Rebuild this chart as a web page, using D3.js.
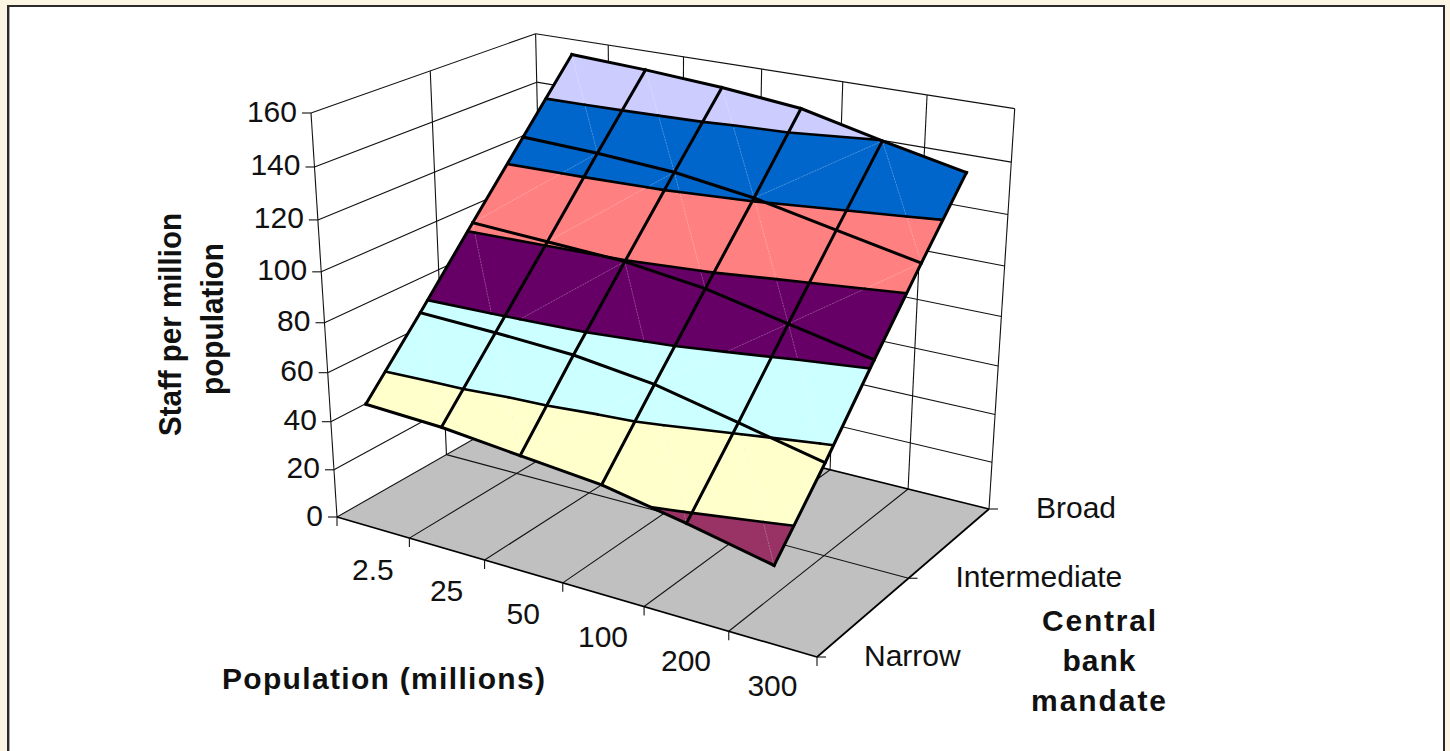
<!DOCTYPE html>
<html>
<head>
<meta charset="utf-8">
<style>
  html, body { margin: 0; padding: 0; background: #fdf5e3; overflow: hidden; }
  text { font-family: "Liberation Sans", Arial, sans-serif; fill: #111; }
  .title { font-weight: bold; }
</style>
</head>
<body>
<svg id="chart" width="1450" height="751"></svg>
<script src="https://cdn.jsdelivr.net/npm/d3@7"></script>
<script>
// Chart values
const populationLabels = ["2.5", "25", "50", "100", "200", "300"];
const mandateSeries = ["Narrow", "", "Intermediate", "", "Broad"];
const narrowStaff = [51.1, 49.7, 46.6, 43.6, 37.4, 30.4];
const narrowMidStaff = [76.4, 75.4, 73.8, 69.8, 62.7, 55.5];
const intermediateStaff = [102.5, 101.1, 99.6, 95.6, 88.9, 82.3];
const broadMidStaff = [128.2, 127.1, 125.2, 120.9, 114.5, 108.2];
const broadStaff = [153.8, 152.4, 150.3, 147.1, 139.8, 133.2];
const staffTicks = [0, 20, 40, 60, 80, 100, 120, 140, 160];
const bandColors = ["#9999ff", "#993366", "#ffffcc", "#ccffff", "#660066", "#ff8080", "#0066cc", "#ccccff"];
// Which way each surface cell is split: 0 joins back-left to front-right, 1 joins front-left to back-right
const cellSplits = [
  [0, 0, 1, 0, 0],
  [0, 1, 0, 1, 0],
  [1, 1, 0, 0, 1],
  [0, 0, 0, 1, 0]
];

const staffRows = [narrowStaff, narrowMidStaff, intermediateStaff, broadMidStaff, broadStaff];

// Scales from category and value to unit-cube coordinates
const popScale = d3.scaleBand().domain(populationLabels).range([0, 1]);
const mandateScale = d3.scalePoint().domain(d3.range(mandateSeries.length)).range([0, 1]);
const staffScale = d3.scaleLinear().domain([0, 160]).range([0, 1]);
const bandColor = d3.scaleThreshold().domain(d3.range(20, 160, 20)).range(bandColors);

// Perspective camera: floor corners plus the vanishing point of the verticals
const floorLeft = [337, 517], floorFront = [817, 657], floorRight = [989, 509], floorBack = [544, 399];
const vanish = [663, 5583];
const cubeTopY = 113;

function quadHomography([x0, y0], [x1, y1], [x2, y2], [x3, y3]) {
  const dx1 = x1 - x2, dx2 = x3 - x2, sx = x0 - x1 + x2 - x3;
  const dy1 = y1 - y2, dy2 = y3 - y2, sy = y0 - y1 + y2 - y3;
  const d = dx1 * dy2 - dx2 * dy1;
  const g = (sx * dy2 - dx2 * sy) / d, h = (dx1 * sy - sx * dy1) / d;
  return [x1 - x0 + g * x1, x3 - x0 + h * x3, x0, y1 - y0 + g * y1, y3 - y0 + h * y3, y0, g, h];
}
const H = quadHomography(floorLeft, floorFront, floorRight, floorBack);
const rise = (floorLeft[1] - cubeTopY) / (floorLeft[1] - vanish[1]);
const K = rise / (1 - rise);

function project(u, v, h) {
  const t = h * K;
  const w = H[6] * u + H[7] * v + 1 + t;
  return [(H[0] * u + H[1] * v + H[2] + t * vanish[0]) / w,
          (H[3] * u + H[4] * v + H[5] + t * vanish[1]) / w];
}

const svg = d3.select("#chart");
const line = d3.line();

// Page frame
svg.append("rect").attr("x", 8).attr("y", 6).attr("width", 1436).attr("height", 780)
  .attr("fill", "#fff").attr("stroke", "#2a2a2a").attr("stroke-width", 2);
svg.append("line").attr("x1", 9.5).attr("x2", 9.5).attr("y1", 7).attr("y2", 751)
  .attr("stroke", "#aaa").attr("stroke-width", 1);

const thin = (g) => g.attr("fill", "none").attr("stroke", "#111").attr("stroke-width", 1.1);
const pathOf = (pts) => line(pts.map((p) => project(...p)));

// Floor and walls
const walls = svg.append("g");
walls.append("path")
  .attr("d", pathOf([[0, 0, 0], [1, 0, 0], [1, 1, 0], [0, 1, 0]]) + "Z")
  .attr("fill", "#c0c0c0");

const uEdges = d3.range(populationLabels.length + 1).map((i) => i / populationLabels.length);
const vEdges = [0, 0.5, 1];
const wallLines = [];
staffTicks.forEach((z) => {
  const h = staffScale(z);
  if (z > 0) {
    wallLines.push([[0, 0, h], [0, 1, h]]);
    wallLines.push([[0, 1, h], [1, 1, h]]);
  }
});
vEdges.slice(1).forEach((v) => wallLines.push([[0, v, 0], [0, v, 1]]));
uEdges.slice(1).forEach((u) => wallLines.push([[u, 1, 0], [u, 1, 1]]));
uEdges.slice(1, -1).forEach((u) => wallLines.push([[u, 0, 0], [u, 1, 0]]));
wallLines.push([[0, 0.5, 0], [1, 0.5, 0]]);
wallLines.push([[0, 0, 0], [0, 0, 1]]);
wallLines.push([[0, 0, 0], [0, 1, 0]]);
walls.append("g").call(thin).selectAll("path").data(wallLines).join("path").attr("d", pathOf);

// Heavier floor edges
const floorEdges = [[[0, 0, 0], [1, 0, 0]], [[1, 0, 0], [1, 1, 0]], [[1, 1, 0], [0, 1, 0]]];
walls.append("g").attr("fill", "none").attr("stroke", "#000").attr("stroke-width", 1.7)
  .selectAll("path").data(floorEdges).join("path").attr("d", pathOf);

// Surface vertices in cube coordinates
const vertex = (c, r) => [popScale(populationLabels[c]) + popScale.bandwidth() / 2,
                          mandateScale(r), staffScale(staffRows[r][c]), staffRows[r][c]];
const lerp = (a, b, t) => a.map((d, i) => d + (b[i] - d) * t);

function clipAbove(poly, level, keepAbove) {
  const out = [];
  poly.forEach((a, i) => {
    const b = poly[(i + 1) % poly.length];
    const ina = keepAbove ? a[3] >= level : a[3] <= level;
    const inb = keepAbove ? b[3] >= level : b[3] <= level;
    if (ina) out.push(a);
    if (ina !== inb) out.push(lerp(a, b, (level - a[3]) / (b[3] - a[3])));
  });
  return out;
}

const surface = svg.append("g");
const fills = [], seams = [], contours = [];
const levels = d3.range(0, 180, 20);
for (let r = cellSplits.length - 1; r >= 0; r--) {
  for (let c = 0; c < populationLabels.length - 1; c++) {
    const fl = vertex(c, r), fr = vertex(c + 1, r), bl = vertex(c, r + 1), br = vertex(c + 1, r + 1);
    const split = cellSplits[r][c];
    const tris = split ? [[bl, fl, br], [fl, fr, br]] : [[fl, fr, bl], [fr, br, bl]];
    seams.push(split ? [fl, br] : [bl, fr]);
    tris.forEach((tri) => {
      d3.pairs(levels).forEach(([lo, hi]) => {
        const band = clipAbove(clipAbove(tri, lo, true), hi, false);
        if (band.length > 2) fills.push({ pts: band, color: bandColor(lo) });
      });
      levels.forEach((lv) => {
        const hits = [];
        tri.forEach((a, i) => {
          const b = tri[(i + 1) % 3];
          if ((a[3] - lv) * (b[3] - lv) < 0) hits.push(lerp(a, b, (lv - a[3]) / (b[3] - a[3])));
        });
        if (hits.length === 2) contours.push(hits);
      });
    });
  }
}
const xyz = (p) => project(p[0], p[1], p[2]);
surface.append("g").selectAll("path").data(fills).join("path")
  .attr("d", (d) => line(d.pts.map(xyz)) + "Z")
  .attr("fill", (d) => d.color).attr("stroke", (d) => d.color).attr("stroke-width", 0.6);
surface.append("g").attr("stroke", "#fff").attr("stroke-opacity", 0.3).attr("stroke-width", 0.8)
  .attr("stroke-dasharray", "2 1").attr("fill", "none")
  .selectAll("path").data(seams).join("path").attr("d", (d) => line(d.map(xyz)));
surface.append("g").attr("stroke", "#000").attr("stroke-width", 2.6).attr("fill", "none")
  .selectAll("path").data(contours).join("path").attr("stroke-linecap", "round").attr("d", (d) => line(d.map(xyz)));

const meshLines = [];
staffRows.forEach((row, r) => meshLines.push(row.map((_, c) => vertex(c, r))));
populationLabels.forEach((_, c) => meshLines.push(staffRows.map((_, r) => vertex(c, r))));
surface.append("g").attr("stroke", "#000").attr("stroke-width", 3).attr("fill", "none")
  .attr("stroke-linejoin", "miter").attr("stroke-linecap", "square")
  .selectAll("path").data(meshLines).join("path").attr("d", (d) => line(d.map(xyz)));

// Axes
const ticks = svg.append("g").call(thin);
const labels = svg.append("g").attr("font-size", 30);

staffTicks.forEach((z) => {
  const [x, y] = project(0, 0, staffScale(z));
  ticks.append("path").attr("d", line([[x - 9, y], [x, y]]));
  labels.append("text").attr("x", x - 14).attr("y", y - 2).attr("text-anchor", "end")
    .attr("dominant-baseline", "central").text(z);
});
uEdges.forEach((u) => {
  const [x, y] = project(u, 0, 0);
  ticks.append("path").attr("d", line([[x, y], [x, y + 9]]));
});
populationLabels.forEach((d) => {
  const [x, y] = project(popScale(d) + popScale.bandwidth() / 2, 0, 0);
  labels.append("text").attr("x", x).attr("y", y + 42).attr("text-anchor", "middle")
    .attr("dominant-baseline", "central").text(d);
});
mandateSeries.forEach((d, i) => {
  if (!d) return;
  const [x, y] = project(1, mandateScale(i), 0);
  ticks.append("path").attr("d", line([[x, y], [x + 9, y]]));
  labels.append("text").attr("x", x + 47).attr("y", y - 2)
    .attr("dominant-baseline", "central").text(d);
});

// Axis titles, each fitted to a set length
const titles = svg.append("g").attr("text-anchor", "middle");
const title = (txt, x, y, len, size, rot) => titles.append("text").attr("class", "title")
  .attr("font-size", size)
  .attr("transform", `translate(${x},${y})` + (rot ? ` rotate(${rot})` : ""))
  .attr("textLength", len)
  .attr("lengthAdjust", rot ? "spacingAndGlyphs" : "spacing")
  .text(txt);
title("Population (millions)", 383.5, 689, 323, 30);
title("Staff per million", 181, 324.5, 223, 31, -90);
title("population", 223, 319, 152, 31, -90);
title("Central", 1099, 631, 114, 30);
title("bank", 1099, 671, 73, 30);
title("mandate", 1098.5, 711, 135, 30);
</script>
</body>
</html>
